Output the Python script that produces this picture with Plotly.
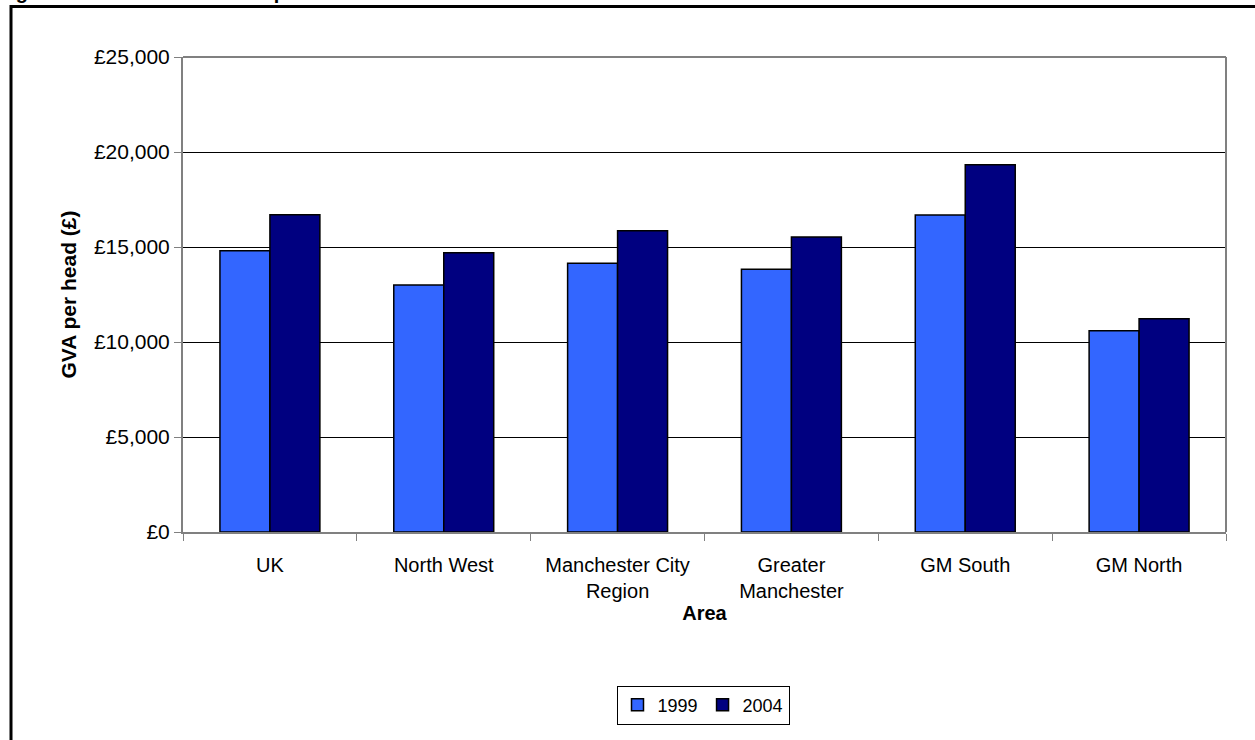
import plotly.graph_objects as go

areas = ["UK", "North West", "Manchester City<br>Region", "Greater<br>Manchester", "GM South", "GM North"]
gva_1999 = [14800, 13000, 14150, 13830, 16680, 10590]
gva_2004 = [16700, 14700, 15860, 15530, 19330, 11220]
y_ticks = [0, 5000, 10000, 15000, 20000, 25000]
y_tick_labels = ["£0", "£5,000", "£10,000", "£15,000", "£20,000", "£25,000"]
title_text = "Figure 4: Gross Value added per head 1999 and 2004"

FONT = "Liberation Sans, Arial, sans-serif"

fig = go.Figure()
fig.add_trace(go.Bar(name="1999", x=areas, y=gva_1999,
                     marker=dict(color="#3366FF", line=dict(color="#000000", width=1.5))))
fig.add_trace(go.Bar(name="2004", x=areas, y=gva_2004,
                     marker=dict(color="#000080", line=dict(color="#000000", width=1.5))))

W, H = 1255, 740
L, R, T, B = 183, 29, 57, 208
pw, ph = W - L - R, H - T - B

def px_x(q):
    return (q - L) / pw

def px_y(p):
    return (H - B - p) / ph

fig.update_layout(
    width=W, height=H,
    margin=dict(l=L, r=R, t=T, b=B, pad=0),
    paper_bgcolor="white", plot_bgcolor="white",
    font=dict(family=FONT, size=21, color="#000000"),
    barmode="group", bargap=0.425, bargroupgap=0,
    showlegend=True,
    legend=dict(orientation="h", x=px_x(703), y=px_y(705), xanchor="center", yanchor="middle",
                bordercolor="#000000", borderwidth=1, bgcolor="white",
                font=dict(family=FONT, size=18), itemwidth=30, tracegroupgap=0),
    xaxis=dict(
        title=dict(text="<b>Area</b>", font=dict(family=FONT, size=20), standoff=5),
        showline=True, linecolor="#808080", linewidth=2,
        ticks="outside", ticklen=7, tickcolor="#808080", tickson="boundaries",
        showgrid=False, mirror=False, ticklabelstandoff=14,
        tickfont=dict(family=FONT, size=20),
    ),
    yaxis=dict(
        title=dict(text="<b>GVA per head (£)</b>", font=dict(family=FONT, size=21), standoff=12),
        range=[0, 25000], tickvals=y_ticks, ticktext=y_tick_labels,
        showline=True, linecolor="#808080", linewidth=2,
        ticks="outside", ticklen=7, tickcolor="#808080",
        showgrid=True, gridcolor="#000000", gridwidth=1,
        zeroline=False,
        tickfont=dict(family=FONT, size=21),
    ),
)

# plot area border (top and right), grey
fig.add_shape(type="line", xref="paper", yref="paper", x0=0, x1=1, y0=1, y1=1,
              line=dict(color="#808080", width=2))
fig.add_shape(type="line", xref="paper", yref="paper", x0=1, x1=1, y0=0, y1=1,
              line=dict(color="#808080", width=2))

# outer chart frame (partly off-page)
fig.add_shape(type="rect", xref="paper", yref="paper",
              x0=px_x(11), x1=px_x(1262), y0=px_y(760), y1=px_y(6.5),
              line=dict(color="#000000", width=3), fillcolor="rgba(0,0,0,0)", layer="above")

# clipped figure title above frame
fig.add_annotation(text="<b>" + title_text + "</b>", xref="paper", yref="paper",
                   x=px_x(-4), y=px_y(5), xanchor="left", yanchor="bottom",
                   showarrow=False, font=dict(family=FONT, size=20, color="#000000"))

fig.write_html("out.html")
